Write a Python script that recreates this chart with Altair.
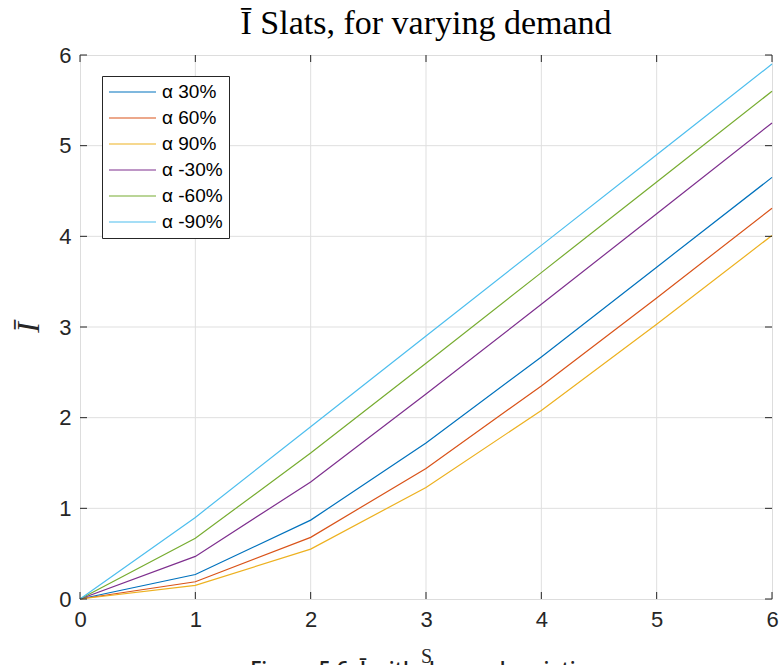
import altair as alt
import pandas as pd

# Supply levels S on the x axis
s_values = [0, 1, 2, 3, 4, 5, 6]

# Mean inventory Ī for each demand variation
alpha_p30 = [0, 0.27, 0.87, 1.72, 2.67, 3.66, 4.65]
alpha_p60 = [0, 0.19, 0.68, 1.44, 2.35, 3.32, 4.31]
alpha_p90 = [0, 0.15, 0.55, 1.23, 2.08, 3.03, 4.01]
alpha_m30 = [0, 0.47, 1.29, 2.26, 3.25, 4.25, 5.25]
alpha_m60 = [0, 0.67, 1.61, 2.60, 3.60, 4.60, 5.60]
alpha_m90 = [0, 0.90, 1.90, 2.90, 3.90, 4.90, 5.90]

series_names = ["α 30%", "α 60%", "α 90%", "α -30%", "α -60%", "α -90%"]
series_values = [alpha_p30, alpha_p60, alpha_p90, alpha_m30, alpha_m60, alpha_m90]
series_colors = ["#0072BD", "#D95319", "#EDB120", "#7E2F8E", "#77AC30", "#4DBEEE"]

tick_values = [0, 1, 2, 3, 4, 5, 6]
grid_values = [1, 2, 3, 4, 5]

PLOT_W, PLOT_H = 692, 544
TICK_LEN = 7
SANS = "Liberation Sans"
SERIF = "Liberation Serif"
AXIS_GREY = "#262626"

rows = []
for name, vals in zip(series_names, series_values):
    for s, v in zip(s_values, vals):
        rows.append({"S": s, "I": v, "series": name})
df = pd.DataFrame(rows)

ticks_df = pd.DataFrame({"t": tick_values})
grid_df = pd.DataFrame({"g": grid_values})

x_scale = alt.Scale(domain=[0, 6], nice=False, zero=False)
y_scale = alt.Scale(domain=[0, 6], nice=False, zero=False)

x_axis = alt.Axis(
    values=tick_values, format="d", title="S", grid=False, ticks=False, tickSize=0,
    domain=False, labelFlush=False, labelFont=SANS, labelFontSize=22,
    labelColor=AXIS_GREY, labelPadding=10, titleFont=SERIF, titleFontSize=20,
    titleFontWeight="normal", titleColor=AXIS_GREY, titleBaseline="alphabetic",
    titleY=63, titleX=PLOT_W / 2,
)
y_axis = alt.Axis(
    values=tick_values, format="d", title="Ī", grid=False, ticks=False, tickSize=0,
    domain=False, labelFlush=False, labelFont=SANS, labelFontSize=22,
    labelColor=AXIS_GREY, labelPadding=9, titleFont=SERIF, titleFontSize=32,
    titleFontWeight="normal", titleFontStyle="italic", titleColor=AXIS_GREY,
    titleAngle=270, titleBaseline="alphabetic", titleAlign="center",
    titleX=-42, titleY=PLOT_H / 2,
)

X = lambda f: alt.X(f, scale=x_scale, axis=x_axis)
Y = lambda f: alt.Y(f, scale=y_scale, axis=y_axis)

# light grid lines
vgrid = alt.Chart(grid_df).mark_rule(color="#dfdfdf", strokeWidth=1).encode(x=X("g:Q"))
hgrid = alt.Chart(grid_df).mark_rule(color="#dfdfdf", strokeWidth=1).encode(y=Y("g:Q"))

# inward ticks on all four sides of the box
tick_style = dict(color=AXIS_GREY, strokeWidth=1)
bottom_ticks = alt.Chart(ticks_df).mark_rule(**tick_style).encode(
    x=X("t:Q"), y=alt.value(PLOT_H), y2=alt.value(PLOT_H - TICK_LEN)
)
top_ticks = alt.Chart(ticks_df).mark_rule(**tick_style).encode(
    x=X("t:Q"), y=alt.value(0), y2=alt.value(TICK_LEN)
)
left_ticks = alt.Chart(ticks_df).mark_rule(**tick_style).encode(
    y=Y("t:Q"), x=alt.value(0), x2=alt.value(TICK_LEN)
)
right_ticks = alt.Chart(ticks_df).mark_rule(**tick_style).encode(
    y=Y("t:Q"), x=alt.value(PLOT_W), x2=alt.value(PLOT_W - TICK_LEN)
)

lines = alt.Chart(df).mark_line(strokeWidth=1.2).encode(
    x=X("S:Q"),
    y=Y("I:Q"),
    color=alt.Color(
        "series:N",
        scale=alt.Scale(domain=series_names, range=series_colors),
        sort=series_names,
        legend=alt.Legend(
            title=None, orient="none", legendX=22, legendY=21,
            symbolType="stroke", symbolSize=2209, symbolStrokeWidth=1.2,
            clipHeight=20, rowPadding=6, labelOffset=5,
            labelFont=SANS, labelFontSize=19, labelColor="black",
            strokeColor=AXIS_GREY, fillColor="white", padding=6,
        ),
    ),
    order=alt.Order("S:Q"),
)

caption = alt.Chart(pd.DataFrame({"c": ["Figure 5.6: Ī with demand variation"]})).mark_text(
    font="Open Sans", fontSize=21, fontWeight=600, color="#222222",
    align="center", baseline="alphabetic",
).encode(x=alt.value(PLOT_W / 2), y=alt.value(PLOT_H + 78), text="c:N")

chart = alt.layer(
    vgrid, hgrid, lines, bottom_ticks, top_ticks, left_ticks, right_ticks, caption
).properties(
    width=PLOT_W,
    height=PLOT_H,
    title=alt.Title(
        "Ī Slats, for varying demand", font=SERIF, fontSize=34,
        fontWeight="normal", color="black", anchor="middle", offset=3,
    ),
    autosize=alt.AutoSizeParams(type="none"),
    padding={"left": 80, "top": 55, "right": 7, "bottom": 66},
).configure_view(
    stroke=AXIS_GREY, strokeWidth=1
).configure(background="white")

chart.save("out.html", embed_options={"renderer": "svg", "actions": False})
